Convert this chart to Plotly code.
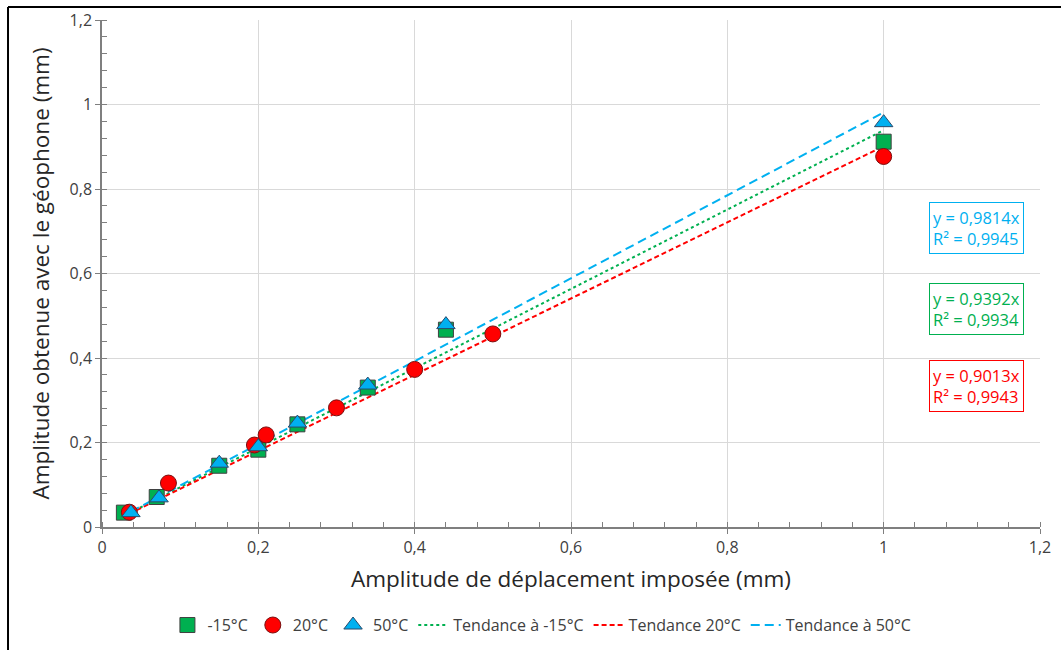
import plotly.graph_objects as go

# ---- data ----
x_m15 = [0.028, 0.07, 0.15, 0.20, 0.25, 0.34, 0.44, 1.0]
y_m15 = [0.034, 0.071, 0.145, 0.183, 0.243, 0.330, 0.467, 0.912]

x_20 = [0.035, 0.085, 0.195, 0.21, 0.30, 0.40, 0.50, 1.0]
y_20 = [0.035, 0.104, 0.194, 0.218, 0.282, 0.373, 0.457, 0.877]

x_50 = [0.037, 0.073, 0.15, 0.20, 0.25, 0.34, 0.44, 1.0]
y_50 = [0.034, 0.069, 0.151, 0.190, 0.246, 0.336, 0.479, 0.957]

slope_m15, r2_m15 = 0.9392, 0.9934
slope_20, r2_20 = 0.9013, 0.9943
slope_50, r2_50 = 0.9814, 0.9945

tick_vals = [0, 0.2, 0.4, 0.6, 0.8, 1.0, 1.2]
tick_text = ["0", "0,2", "0,4", "0,6", "0,8", "1", "1,2"]

GREEN = "#00B050"
RED = "#FF0000"
BLUE = "#00B0F0"
FONT = "Open Sans"

def trend(xs, slope):
    x0, x1 = min(xs), max(xs)
    return [x0, x1], [slope * x0, slope * x1]

fig = go.Figure()

tx, ty = trend(x_m15, slope_m15)
fig.add_trace(go.Scatter(x=tx, y=ty, mode="lines", name="Tendance à -15°C",
                         line=dict(color=GREEN, width=2, dash="dot"), legendrank=4))
tx, ty = trend(x_20, slope_20)
fig.add_trace(go.Scatter(x=tx, y=ty, mode="lines", name="Tendance 20°C",
                         line=dict(color=RED, width=2, dash="5px,3px"), legendrank=5))
tx, ty = trend(x_50, slope_50)
fig.add_trace(go.Scatter(x=tx, y=ty, mode="lines", name="Tendance à 50°C",
                         line=dict(color=BLUE, width=2, dash="9px,5px"), legendrank=6))

fig.add_trace(go.Scatter(x=x_m15, y=y_m15, mode="markers", name="-15°C",
                         marker=dict(symbol="square", size=15, color=GREEN,
                                     line=dict(color="#404040", width=1)), legendrank=1))
fig.add_trace(go.Scatter(x=x_20, y=y_20, mode="markers", name="20°C",
                         marker=dict(symbol="circle", size=16, color=RED,
                                     line=dict(color="#7a1010", width=1)), legendrank=2))
fig.add_trace(go.Scatter(x=x_50, y=y_50, mode="markers", name="50°C",
                         marker=dict(symbol="triangle-up", size=16, color=BLUE,
                                     line=dict(color="#2a4a6a", width=1)), legendrank=3))

axis_common = dict(
    range=[0, 1.2], tickvals=tick_vals, ticktext=tick_text,
    showgrid=True, gridcolor="#D9D9D9", gridwidth=1,
    showline=True, linecolor="#7F7F7F", linewidth=1.5,
    ticks="outside", ticklen=5, tickcolor="#7F7F7F",
    minor=dict(dtick=0.04, ticks="inside", ticklen=5, tickcolor="#7F7F7F", showgrid=False),
    tickfont=dict(family=FONT, size=16, color="#404040"),
    zeroline=False,
)

fig.update_xaxes(**axis_common,
                 title=dict(text="Amplitude de déplacement imposée (mm)",
                            font=dict(family=FONT, size=22.5, color="#262626"), standoff=14))
fig.update_yaxes(**axis_common,
                 title=dict(text="Amplitude obtenue avec le géophone (mm)",
                            font=dict(family=FONT, size=22.5, color="#262626"), standoff=14))

def box(text, color, ymid):
    return dict(xref="paper", yref="y", x=0.983, y=ymid, xanchor="right", yanchor="middle",
                text=text, showarrow=False, align="left",
                font=dict(family=FONT, size=16.5, color=color),
                bordercolor=color, borderwidth=1, borderpad=3, bgcolor="white")

fig.update_layout(
    width=1061, height=650,
    margin=dict(l=102, r=21, t=20, b=123, autoexpand=False),
    plot_bgcolor="white", paper_bgcolor="white",
    font=dict(family=FONT),
    legend=dict(orientation="h", x=0.469, xanchor="center", y=-0.16, yanchor="top",
                font=dict(family=FONT, size=16, color="#404040"),
                traceorder="normal", itemwidth=30),
    annotations=[
        box(f"y = {slope_50:.4f}x<br>R² = {r2_50:.4f}".replace(".", ","), BLUE, 0.708),
        box(f"y = {slope_m15:.4f}x<br>R² = {r2_m15:.4f}".replace(".", ","), GREEN, 0.516),
        box(f"y = {slope_20:.4f}x<br>R² = {r2_20:.4f}".replace(".", ","), RED, 0.334),
    ],
    shapes=[
        dict(type="line", xref="paper", yref="paper", x0=-0.1002, x1=1.03, y0=1.0256, y1=1.0256,
             line=dict(color="black", width=2)),
        dict(type="line", xref="paper", yref="paper", x0=-0.1002, x1=-0.1002, y0=1.0256, y1=-0.25,
             line=dict(color="black", width=2)),
    ],
)

fig.write_html("out.html")
